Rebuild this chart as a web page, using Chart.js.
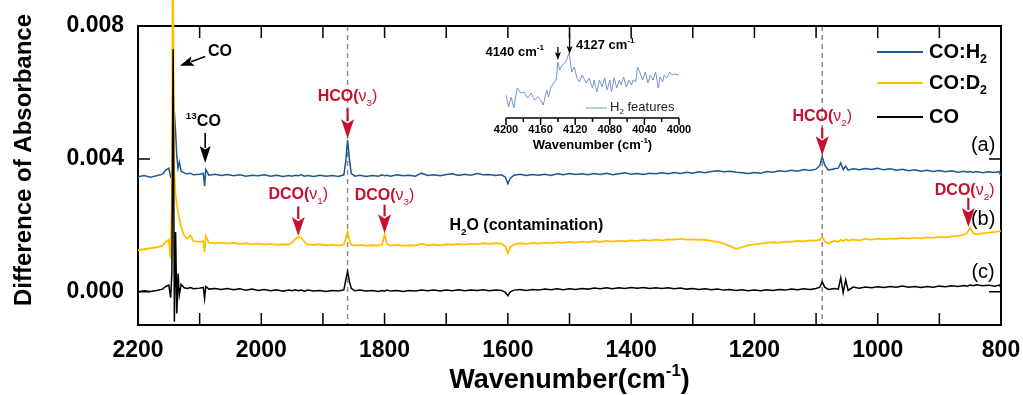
<!DOCTYPE html>
<html>
<head>
<meta charset="utf-8">
<script src="https://cdn.jsdelivr.net/npm/chart.js@4.4.1/dist/chart.umd.min.js"></script>
<style>
  body { margin: 0; background: #fff; }
  #wrap { position: relative; width: 1023px; height: 395px; }
  #main { position: absolute; left: 0; top: 0; }
  #inset { position: absolute; left: 470px; top: 30px; }
</style>
</head>
<body>
<div id="wrap">
  <canvas id="main" width="1023" height="395"></canvas>
  <canvas id="inset" width="230" height="125"></canvas>
</div>
<script>
// wavenumber grid shared by the three spectra (cm-1)
const wavenumbers = [
  2200, 2190, 2180, 2170, 2160, 2155, 2150, 2147, 2145, 2144,
  2143, 2141, 2139, 2137, 2135, 2133, 2130, 2125, 2120, 2115,
  2110, 2100, 2094, 2092, 2090, 2085, 2075, 2065, 2055, 2045,
  2035, 2025, 2015, 2005, 1995, 1985, 1975, 1965, 1955, 1950,
  1945, 1940, 1935, 1930, 1925, 1915, 1905, 1895, 1885, 1875,
  1866, 1863, 1860, 1857, 1854, 1848, 1840, 1830, 1820, 1810,
  1804, 1800, 1796, 1790, 1780, 1770, 1760, 1750, 1740, 1730,
  1720, 1710, 1700, 1690, 1680, 1670, 1660, 1650, 1640, 1630,
  1620, 1610, 1604, 1600, 1596, 1590, 1580, 1570, 1560, 1550,
  1540, 1530, 1520, 1510, 1500, 1490, 1480, 1470, 1460, 1450,
  1440, 1430, 1420, 1410, 1400, 1390, 1380, 1370, 1360, 1350,
  1340, 1330, 1320, 1310, 1300, 1290, 1280, 1270, 1260, 1250,
  1240, 1230, 1220, 1210, 1200, 1190, 1180, 1170, 1160, 1150,
  1140, 1130, 1120, 1110, 1100, 1094, 1090, 1086, 1080, 1070,
  1064, 1060, 1056, 1052, 1048, 1040, 1030, 1020, 1010, 1000,
  990, 980, 970, 960, 950, 940, 930, 920, 910, 900,
  890, 880, 870, 860, 855, 850, 845, 840, 830, 820,
  810, 803, 800
];

// (a) CO:H2
const coH2 = [
  .00346, .00350, .00345, .00349, .00354, .00366, .00372, .00346, .00352, .00360,
  .00420, .00540, .00480, .00405, .00372, .00390, .00362, .00358, .00355, .00357,
  .00352, .00354, .00356, .00318, .00368, .00351, .00354, .00350, .00353, .00349,
  .00352, .00348, .00351, .00349, .00352, .00348, .00351, .00347, .00350, .00348,
  .00351, .00349, .00352, .00348, .00350, .00347, .00351, .00348, .00350, .00347,
  .00352, .00392, .00457, .00398, .00356, .00348, .00351, .00347, .00350, .00348,
  .00352, .00349, .00351, .00348, .00352, .00349, .00351, .00348, .00357, .00350,
  .00352, .00349, .00353, .00355, .00350, .00354, .00351, .00356, .00352, .00353,
  .00350, .00352, .00345, .00325, .00342, .00351, .00354, .00350, .00353, .00351,
  .00354, .00350, .00355, .00352, .00356, .00353, .00355, .00352, .00356, .00353,
  .00357, .00352, .00355, .00358, .00354, .00356, .00353, .00357, .00355, .00358,
  .00355, .00359, .00356, .00360, .00357, .00361, .00358, .00362, .00364, .00361,
  .00363, .00360, .00358, .00356, .00359, .00357, .00362, .00360, .00364, .00362,
  .00366, .00363, .00368, .00365, .00369, .00380, .00406, .00382, .00366, .00370,
  .00372, .00388, .00368, .00378, .00366, .00370, .00367, .00371, .00368, .00372,
  .00367, .00370, .00366, .00369, .00364, .00367, .00363, .00366, .00362, .00365,
  .00361, .00364, .00360, .00363, .00360, .00362, .00359, .00362, .00358, .00361,
  .00359, .00362, .00348
];

// (b) CO:D2
const coD2 = [
  .00125, .00128, .00131, .00134, .00139, .00150, .00157, .00100, .00300, .00880,
  .00880, .00360, .00290, .00262, .00240, .00222, .00195, .00168, .00160, .00170,
  .00152, .00150, .00152, .00120, .00168, .00148, .00146, .00148, .00145, .00147,
  .00144, .00146, .00143, .00145, .00142, .00144, .00141, .00143, .00142, .00148,
  .00158, .00165, .00162, .00150, .00143, .00141, .00143, .00140, .00142, .00139,
  .00142, .00158, .00180, .00155, .00141, .00139, .00141, .00138, .00140, .00139,
  .00142, .00172, .00143, .00139, .00141, .00138, .00140, .00139, .00145, .00140,
  .00142, .00140, .00143, .00141, .00144, .00142, .00145, .00143, .00146, .00144,
  .00146, .00144, .00136, .00116, .00134, .00143, .00146, .00144, .00147, .00145,
  .00148, .00146, .00149, .00147, .00150, .00148, .00151, .00149, .00152, .00150,
  .00153, .00151, .00154, .00152, .00155, .00153, .00156, .00154, .00157, .00155,
  .00158, .00157, .00159, .00157, .00158, .00156, .00157, .00153, .00150, .00145,
  .00138, .00129, .00134, .00140, .00143, .00145, .00147, .00149, .00148, .00151,
  .00150, .00153, .00152, .00155, .00154, .00157, .00165, .00152, .00145, .00154,
  .00150, .00157, .00152, .00158, .00154, .00157, .00155, .00159, .00157, .00160,
  .00158, .00161, .00159, .00162, .00160, .00163, .00161, .00164, .00162, .00165,
  .00164, .00167, .00168, .00172, .00178, .00192, .00176, .00173, .00176, .00178,
  .00180, .00182, .00184
];

// (c) CO
const co = [
  .00000, .00003, .00001, .00004, .00008, .00016, .00020, -.00018, .00060, .00400,
  .00730, -.00090, .00180, -.00065, .00055, -.00010, .00022, .00012, .00010, .00013,
  .00009, .00011, .00013, -.00020, .00016, .00008, .00010, .00007, .00010, .00006,
  .00009, .00005, .00008, .00004, .00007, .00003, .00006, .00002, .00005, .00003,
  .00006, .00003, .00005, .00002, .00005, .00002, .00004, .00001, .00004, .00002,
  .00006, .00035, .00061, .00030, .00010, .00003, .00005, .00002, .00004, .00001,
  .00004, .00002, .00005, .00002, .00004, .00001, .00004, .00002, .00005, .00003,
  .00005, .00002, .00005, .00003, .00006, .00003, .00005, .00004, .00006, .00003,
  .00005, .00004, -.00002, -.00012, .00000, .00005, .00007, .00004, .00007, .00005,
  .00008, .00006, .00009, .00006, .00009, .00007, .00010, .00008, .00011, .00009,
  .00012, .00009, .00012, .00010, .00013, .00011, .00013, .00010, .00012, .00010,
  .00012, .00009, .00011, .00008, .00010, .00007, .00009, .00006, .00008, .00005,
  .00007, .00004, .00006, .00003, .00005, .00003, .00006, .00004, .00007, .00005,
  .00008, .00006, .00009, .00007, .00010, .00014, .00030, .00014, .00007, .00010,
  .00008, .00042, -.00003, .00036, .00004, .00014, .00011, .00014, .00012, .00015,
  .00013, .00016, .00014, .00017, .00014, .00016, .00013, .00016, .00014, .00017,
  .00015, .00018, .00016, .00019, .00017, .00020, .00018, .00021, .00018, .00020,
  .00017, .00020, .00014
];

// inset: H2 features
const h2Wavenumbers = [
  4200, 4197, 4194, 4191, 4187, 4183, 4179, 4175, 4171, 4167,
  4163, 4160, 4157, 4153, 4151, 4148, 4145, 4142, 4140, 4138,
  4135, 4131, 4127, 4124, 4121, 4118, 4115, 4112, 4109, 4107,
  4104, 4100, 4098, 4095, 4092, 4089, 4086, 4083, 4080, 4078,
  4075, 4072, 4069, 4067, 4064, 4061, 4058, 4055, 4053, 4050,
  4048, 4045, 4042, 4039, 4036, 4033, 4030, 4027, 4024, 4022,
  4019, 4017, 4014, 4011, 4008, 4005, 4000
];
const h2Signal = [
  0.23, 0.11, 0.21, 0.10, 0.30, 0.25, 0.26, 0.20, 0.25, 0.18,
  0.21, 0.18, 0.13, 0.28, 0.21, 0.31, 0.35, 0.38, 0.56, 0.48,
  0.53, 0.56, 0.65, 0.46, 0.51, 0.40, 0.36, 0.43, 0.38, 0.35,
  0.40, 0.30, 0.38, 0.26, 0.38, 0.31, 0.40, 0.28, 0.38, 0.26,
  0.40, 0.30, 0.38, 0.33, 0.41, 0.31, 0.38, 0.33, 0.38, 0.36,
  0.51, 0.45, 0.38, 0.46, 0.35, 0.43, 0.38, 0.46, 0.30, 0.41,
  0.36, 0.43, 0.40, 0.46, 0.43, 0.44, 0.43
];

const xLabels = [2200, 2000, 1800, 1600, 1400, 1200, 1000, 800];
const yLabels = [0.000, 0.004, 0.008];
const insetLabels = [4200, 4160, 4120, 4080, 4040, 4000];
const guideLines = [1860, 1090];

const FONT = "'Liberation Sans', Arial, sans-serif";
const BLUE = '#1b5791', YELLOW = '#ffbf00', RED = '#c8102e', INSET = '#7198c7';

const toPts = (xs, ys) => xs.map((x, i) => ({ x, y: ys[i] }));

// text with bold / normal / sub / sup pieces
function rich(ctx, parts, x, y, size, color, align) {
  const fontOf = st => {
    const small = st.includes('sub') || st.includes('sup');
    return (st[0] === 'b' ? 'bold ' : '') + (small ? size * 0.62 : size) + 'px ' + FONT;
  };
  let total = 0;
  parts.forEach(p => { ctx.font = fontOf(p[1]); total += ctx.measureText(p[0]).width; });
  let cx = align === 'center' ? x - total / 2 : align === 'right' ? x - total : x;
  ctx.fillStyle = color;
  ctx.textAlign = 'left';
  ctx.textBaseline = 'middle';
  parts.forEach(p => {
    ctx.font = fontOf(p[1]);
    const dy = p[1].includes('sub') ? size * 0.4 : p[1].includes('sup') ? -size * 0.35 : 0;
    ctx.fillText(p[0], cx, y + dy);
    cx += ctx.measureText(p[0]).width;
  });
}

function arrow(ctx, x0, y0, x1, y1, head, half, color, width) {
  const ang = Math.atan2(y1 - y0, x1 - x0);
  const c = Math.cos(ang), s = Math.sin(ang);
  const bx = x1 - c * head, by = y1 - s * head;
  ctx.strokeStyle = color;
  ctx.fillStyle = color;
  ctx.lineWidth = width;
  ctx.beginPath(); ctx.moveTo(x0, y0); ctx.lineTo(bx + c * 2, by + s * 2); ctx.stroke();
  ctx.beginPath();
  ctx.moveTo(x1, y1);
  ctx.lineTo(bx + s * half, by - c * half);
  ctx.lineTo(bx + c * head * 0.22, by + s * head * 0.22);
  ctx.lineTo(bx - s * half, by + c * half);
  ctx.closePath();
  ctx.fill();
}

const nu = (mode) => [['ν', 'n'], [mode, 'nsub'], [')', 'n']];
const bandNotes = [
  { parts: [['HCO(', 'b'], ...nu('3')], wn: 1860, tx: 1860, ty: 0.00587, from: 0.00552, to: 0.00462 },
  { parts: [['HCO(', 'b'], ...nu('2')], wn: 1090, tx: 1090, ty: 0.00527, from: 0.00494, to: 0.00411 },
  { parts: [['DCO(', 'b'], ...nu('1')], wn: 1940, tx: 1940, ty: 0.00292, from: 0.00257, to: 0.00168 },
  { parts: [['DCO(', 'b'], ...nu('3')], wn: 1800, tx: 1800, ty: 0.00289, from: 0.00262, to: 0.00176 },
  { parts: [['DCO(', 'b'], ...nu('2')], wn: 853, tx: 859, ty: 0.00304, from: 0.00283, to: 0.00195 }
];
const panelTags = [['(a)', 0.00441], ['(b)', 0.00217], ['(c)', 0.00057]];

const mainDecor = {
  id: 'mainDecor',
  beforeDatasetsDraw(chart) {
    const { ctx, chartArea: a, scales: { x, y } } = chart;
    ctx.save();
    // dashed guides
    ctx.strokeStyle = '#8c8c8c';
    ctx.lineWidth = 1.5;
    ctx.setLineDash([5, 4]);
    guideLines.forEach(w => {
      const X = x.getPixelForValue(w);
      ctx.beginPath(); ctx.moveTo(X, a.top); ctx.lineTo(X, a.bottom); ctx.stroke();
    });
    ctx.setLineDash([]);
    // frame + inward ticks
    ctx.strokeStyle = '#000';
    ctx.lineWidth = 2;
    ctx.strokeRect(a.left, a.top, a.right - a.left, a.bottom - a.top);
    ctx.lineWidth = 1.5;
    ctx.beginPath();
    for (let w = 800; w <= 2200; w += 100) {
      const X = x.getPixelForValue(w);
      ctx.moveTo(X, a.top); ctx.lineTo(X, a.top + 12);
      ctx.moveTo(X, a.bottom); ctx.lineTo(X, a.bottom - 12);
    }
    yLabels.forEach(v => {
      const Y = y.getPixelForValue(v);
      ctx.moveTo(a.left, Y); ctx.lineTo(a.left + 12, Y);
      ctx.moveTo(a.right, Y); ctx.lineTo(a.right - 12, Y);
    });
    ctx.stroke();
    ctx.restore();
  },
  afterDraw(chart) {
    const { ctx, chartArea: a, scales: { x, y } } = chart;
    const px = w => x.getPixelForValue(w), py = v => y.getPixelForValue(v);
    ctx.save();

    // axis titles
    rich(ctx, [['Wavenumber(cm', 'b'], ['-1', 'bsup'], [')', 'b']], (a.left + a.right) / 2, 381, 27, '#000', 'center');
    ctx.save();
    ctx.translate(24, 160);
    ctx.rotate(-Math.PI / 2);
    rich(ctx, [['Difference of Absorbance', 'b']], 0, 0, 24, '#000', 'center');
    ctx.restore();

    // legend
    const legend = [
      [BLUE, [['CO:H', 'b'], ['2', 'bsub']]],
      [YELLOW, [['CO:D', 'b'], ['2', 'bsub']]],
      ['#000', [['CO', 'b']]]
    ];
    legend.forEach((item, i) => {
      const ly = [52, 83, 117][i];
      ctx.strokeStyle = item[0];
      ctx.lineWidth = 2;
      ctx.beginPath(); ctx.moveTo(877, ly); ctx.lineTo(923, ly); ctx.stroke();
      rich(ctx, item[1], 929, ly, 20, '#000', 'left');
    });

    // panel tags
    panelTags.forEach(t => rich(ctx, [[t[0], 'n']], px(829), py(t[1]), 20, '#000', 'center'));

    // band assignments
    bandNotes.forEach(n => {
      rich(ctx, n.parts, px(n.tx), py(n.ty), 16, RED, 'center');
      arrow(ctx, px(n.wn), py(n.from), px(n.wn), py(n.to), 19, 6.5, RED, 2.2);
    });

    // CO and 13CO
    rich(ctx, [['CO', 'b']], px(2067), py(0.00722), 16, '#000', 'center');
    arrow(ctx, px(2091), py(0.00708), px(2132), py(0.00680), 14, 5, '#000', 1.6);
    rich(ctx, [['13', 'bsup'], ['CO', 'b']], px(2094), py(0.00511), 16, '#000', 'center');
    arrow(ctx, px(2091), py(0.00478), px(2091), py(0.00388), 17, 5.5, '#000', 1.6);

    rich(ctx, [['H', 'b'], ['2', 'bsub'], ['O (contamination)', 'b']], px(1570), py(0.00199), 16, '#000', 'center');
    ctx.restore();
  }
};

new Chart(document.getElementById('main'), {
  type: 'line',
  data: {
    datasets: [
      { label: 'CO:H2', data: toPts(wavenumbers, coH2), borderColor: BLUE, borderWidth: 1.5, pointRadius: 0, order: 3 },
      { label: 'CO:D2', data: toPts(wavenumbers, coD2), borderColor: YELLOW, borderWidth: 1.8, pointRadius: 0, order: 2,
        clip: { left: 0, top: false, right: 0, bottom: 0 } },
      { label: 'CO', data: toPts(wavenumbers, co), borderColor: '#000', borderWidth: 1.5, pointRadius: 0, order: 1 }
    ]
  },
  options: {
    responsive: false,
    animation: false,
    layout: { padding: { top: 26, right: 22, left: 0, bottom: 0 } },
    plugins: { legend: { display: false }, tooltip: { enabled: false } },
    scales: {
      x: {
        type: 'linear', min: 800, max: 2200, reverse: true,
        afterBuildTicks: s => { s.ticks = xLabels.map(v => ({ value: v })); },
        afterFit: s => { s.height = 70; s.paddingLeft = 0; s.paddingRight = 0; },
        grid: { display: false, drawTicks: false },
        border: { display: false },
        ticks: { color: '#000', padding: 12, maxRotation: 0, autoSkip: false,
                 font: { family: FONT, size: 23, weight: 'bold' }, callback: v => String(v) }
      },
      y: {
        min: -0.001, max: 0.008,
        afterBuildTicks: s => { s.ticks = yLabels.map(v => ({ value: v })); },
        afterFit: s => { s.width = 138; s.paddingTop = 0; s.paddingBottom = 0; },
        grid: { display: false, drawTicks: false },
        border: { display: false },
        ticks: { color: '#000', padding: 14,
                 font: { family: FONT, size: 23, weight: 'bold' }, callback: v => v.toFixed(3) }
      }
    }
  },
  plugins: [mainDecor]
});

// ---- inset ----
const insetDecor = {
  id: 'insetDecor',
  afterDraw(chart) {
    const { ctx, chartArea: a, scales: { x, y } } = chart;
    const px = w => x.getPixelForValue(w), py = v => y.getPixelForValue(v);
    ctx.save();
    ctx.strokeStyle = '#000';
    ctx.lineWidth = 1.5;
    ctx.beginPath();
    ctx.moveTo(a.left, a.bottom); ctx.lineTo(a.right, a.bottom);
    for (let w = 4000; w <= 4200; w += 20) {
      const X = px(w);
      ctx.moveTo(X, a.bottom); ctx.lineTo(X, a.bottom + (w % 40 === 0 ? 7 : 4));
    }
    ctx.stroke();
    rich(ctx, [['Wavenumber (cm', 'b'], ['-1', 'bsup'], [')', 'b']], (a.left + a.right) / 2, a.bottom + 27, 13, '#000', 'center');

    // legend
    ctx.strokeStyle = INSET;
    ctx.lineWidth = 1;
    ctx.beginPath(); ctx.moveTo(116, 78); ctx.lineTo(137, 78); ctx.stroke();
    rich(ctx, [['H', 'n'], ['2', 'nsub'], [' features', 'n']], 140, 77, 13, '#222', 'left');

    // peak markers
    rich(ctx, [['4140 cm', 'b'], ['-1', 'bsup']], px(4190), py(0.66), 13, '#000', 'center');
    arrow(ctx, px(4140), py(0.71), px(4140), py(0.58), 8, 3, '#000', 1.3);
    rich(ctx, [['4127 cm', 'b'], ['-1', 'bsup']], px(4119), py(0.73), 13, '#000', 'left');
    arrow(ctx, px(4126.5), py(0.84), px(4126.5), py(0.64), 8, 3, '#000', 1.3);
    ctx.restore();
  }
};

new Chart(document.getElementById('inset'), {
  type: 'line',
  data: {
    datasets: [
      { label: 'H2 features', data: toPts(h2Wavenumbers, h2Signal), borderColor: INSET, borderWidth: 1, pointRadius: 0 }
    ]
  },
  options: {
    responsive: false,
    animation: false,
    layout: { padding: { top: 10, right: 21, left: 36, bottom: 0 } },
    plugins: { legend: { display: false }, tooltip: { enabled: false } },
    scales: {
      x: {
        type: 'linear', min: 4000, max: 4200, reverse: true,
        afterBuildTicks: s => { s.ticks = insetLabels.map(v => ({ value: v })); },
        afterFit: s => { s.height = 37; s.paddingLeft = 0; s.paddingRight = 0; },
        grid: { display: false, drawTicks: false },
        border: { display: false },
        ticks: { color: '#000', padding: 5, maxRotation: 0, autoSkip: false,
                 font: { family: FONT, size: 11, weight: 'bold' }, callback: v => String(v) }
      },
      y: { display: false, min: 0, max: 0.78 }
    }
  },
  plugins: [insetDecor]
});
</script>
</body>
</html>
